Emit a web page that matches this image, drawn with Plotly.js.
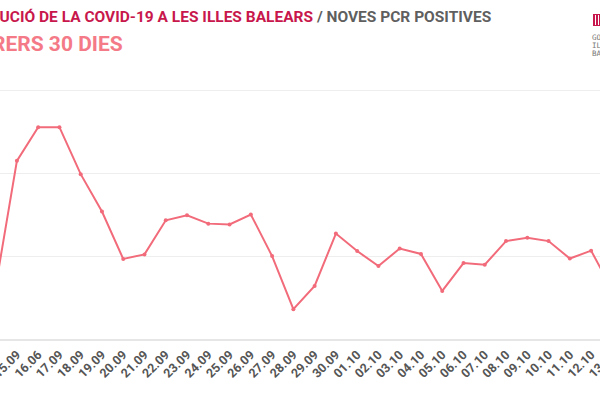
<!DOCTYPE html>
<html>
<head>
<meta charset="utf-8">
<script src="https://cdn.plot.ly/plotly-3.0.1.min.js"></script>
<style>
html,body{margin:0;padding:0;width:600px;height:400px;overflow:hidden;background:#fff;}
#chart{position:absolute;left:-45px;top:0;width:688px;height:400px;}
</style>
</head>
<body>
<div id="chart"></div>
<script>
const dates = ["14.09","15.09","16.06","17.09","18.09","19.09","20.09","21.09","22.09","23.09",
  "24.09","25.09","26.09","27.09","28.09","29.09","30.09","01.10","02.10","03.10",
  "04.10","05.10","06.10","07.10","08.10","09.10","10.10","11.10","12.10","13.10"];
const positives = [128,431,512,512,399,309,195,206,288,300,
  280,278,302,202,74,130,256,214,178,220,
  207,118,185,181,238,246,238,196,215,120];
const titleMain = "EVOLUCIÓ DE LA COVID-19 A LES ILLES BALEARS";
const titleSub = " / NOVES PCR POSITIVES";
const subtitle = "DARRERS 30 DIES";
const logoLines = ["GOVERN","ILLES","BALEARS"];

const trace = {
  type: "scatter",
  mode: "lines+markers",
  x: dates,
  y: positives,
  line: {color: "#f26b7a", width: 2},
  marker: {color: "#f26b7a", size: 4},
  hoverinfo: "x+y"
};

const W = 688, L = 30, R = 20, T = 74, B = 60;
const plotW = W - L - R;
const plotH = 400 - T - B;
function px(xPage){ return (xPage + 45 - L) / plotW; }
function py(yPage){ return (400 - B - yPage) / plotH; }

const annotations = [
  {xref:"paper", yref:"paper", x: px(-40), y: py(17), xanchor:"left", yanchor:"middle",
   text: '<span style="color:#c8174c">'+titleMain+'</span><span style="color:#5f5f5f">'+titleSub+'</span>',
   showarrow:false, font:{family:"Roboto", size:15.5, weight:700}},
  {xref:"paper", yref:"paper", x: px(-51), y: py(44), xanchor:"left", yanchor:"middle",
   text: subtitle, showarrow:false, font:{family:"Roboto", size:21, color:"#f47a87", weight:700}}
];
const logoY = [38, 46, 54];
logoLines.forEach(function(t, i){
  annotations.push({xref:"paper", yref:"paper", x: px(591), y: py(logoY[i]), xanchor:"left", yanchor:"middle",
    text: t, showarrow:false, borderpad:0, font:{family:"DejaVu Sans Mono", size:7.5, color:"#777"}});
});

const shapes = [
  {type:"rect", xref:"paper", yref:"paper", x0: px(593), x1: px(602), y0: py(26), y1: py(14), layer:"above",
   fillcolor:"#c8174c", line:{width:0}},
  {type:"line", xref:"paper", yref:"paper", x0: px(595.5), x1: px(595.5), y0: py(25), y1: py(15), layer:"above",
   line:{color:"#ffffff", width:1}},
  {type:"line", xref:"paper", yref:"paper", x0: px(598.5), x1: px(598.5), y0: py(25), y1: py(15), layer:"above",
   line:{color:"#ffffff", width:1}}
];

const layout = {
  width: W, height: 400,
  margin: {l: L, r: R, t: T, b: B},
  paper_bgcolor: "#fff", plot_bgcolor: "#fff",
  showlegend: false,
  xaxis: {
    type: "category",
    range: [-0.5, 29.5],
    tickangle: -45,
    ticklabelstandoff: 4,
    tickfont: {family:"Roboto", size:12.5, color:"#555", weight:700},
    showgrid: false, zeroline: false, showline: false, ticks: ""
  },
  yaxis: {
    range: [0, 640],
    tickvals: [0, 200, 400, 600],
    showticklabels: false,
    gridcolor: "#eeeeee",
    zeroline: true, zerolinecolor: "#e6e6e6", zerolinewidth: 1.5,
    showline: false, ticks: ""
  },
  annotations: annotations,
  shapes: shapes
};

Plotly.newPlot("chart", [trace], layout, {displayModeBar:false, staticPlot:true});
</script>
</body>
</html>
